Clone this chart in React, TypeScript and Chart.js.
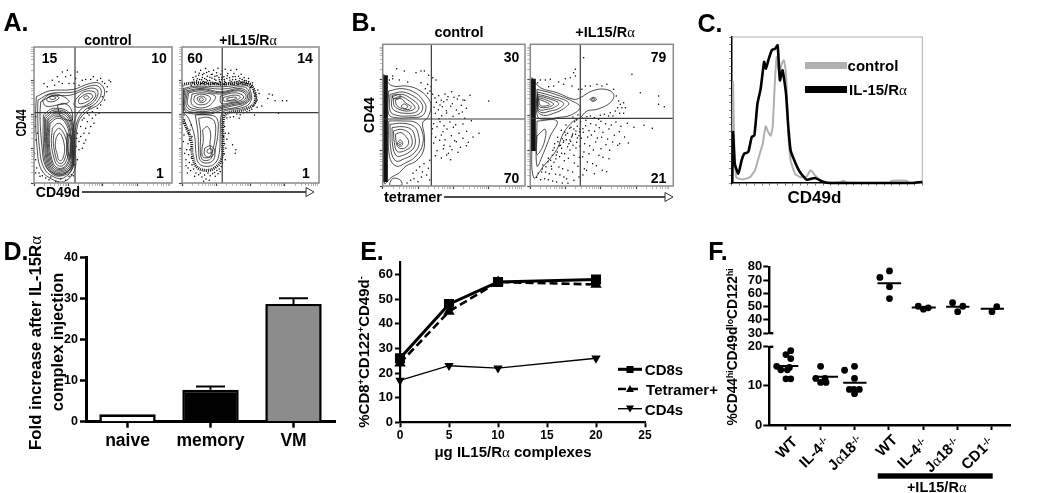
import React, { useEffect, useRef } from "react";
import { Chart, registerables } from "chart.js";

Chart.register(...registerables);
Chart.defaults.font.family = '"Liberation Sans", Arial, sans-serif';
Chart.defaults.font.weight = "bold";
Chart.defaults.color = "#000";

type P = number[];

/* ---------- Panel A: flow plots (channel units) ---------- */
const aControlContours: P[][] = [
  [[7,260],[47,278],[117,282],[167,300],[197,300],[212,275],[197,240],[157,215],[132,180],[125,100],[122,40],[92,5],[57,10],[22,40],[9,110],[5,210]],
  [[12,250],[50,270],[117,274],[165,292],[192,292],[202,272],[185,240],[150,218],[127,178],[120,100],[116,45],[88,15],[60,18],[30,45],[16,110],[11,210]],
  [[20,245],[55,262],[110,265],[160,284],[185,284],[192,268],[175,240],[140,222],[120,180],[116,100],[112,50],[85,25],[62,28],[35,50],[24,110],[18,200]],
  [[125,252],[150,275],[180,275],[185,262],[165,240],[135,228],[120,235]],
  [[135,255],[155,268],[172,268],[175,258],[155,243],[135,240]],
  [[148,258],[158,263],[165,258],[155,252]],
  [[25,250],[50,268],[85,262],[105,245],[70,235],[35,232]],
  [[38,255],[55,264],[75,258],[60,246],[40,247]],
  [[45,258],[56,262],[66,256],[52,252]],
  [[70,235],[90,240],[110,225],[115,190],[100,190],[80,200]],
  [[28,205],[58,225],[105,212],[120,155],[120,75],[112,38],[85,22],[58,25],[36,55],[28,120]],
  [[32,200],[60,220],[102,208],[119,152],[119,78],[111,42],[85,26],[59,28],[39,58],[32,120]],
  [[35,195],[60,215],[100,205],[117,150],[118,80],[110,45],[85,30],[60,32],[42,60],[35,120]],
  [[39,192],[63,210],[98,200],[115,148],[115,82],[107,48],[85,34],[61,36],[45,62],[38,120]],
  [[42,190],[65,205],[95,195],[112,145],[113,85],[105,52],[85,38],[62,40],[48,65],[40,120]],
  [[45,185],[68,200],[94,190],[110,142],[110,88],[102,56],[85,42],[64,44],[51,68],[43,120]],
  [[48,180],[70,195],[92,185],[107,140],[108,90],[100,60],[85,45],[66,48],[54,70],[46,120]],
  [[55,165],[72,180],[88,170],[102,135],[104,95],[96,65],[85,52],[70,54],[60,75],[52,120]],
  [[60,150],[74,165],[86,155],[97,128],[99,100],[92,72],[84,60],[72,62],[65,80],[58,120]],
  [[66,135],[76,150],[84,140],[90,120],[92,100],[88,78],[82,68],[74,70],[70,85],[64,110]],
  [[100,150],[112,140],[113,95],[106,70],[99,90],[98,125]],
  [[103,145],[110,135],[110,100],[105,80],[102,95],[101,125]],
];
const aControlDots: P[] = [
  [30,300],[40,290],[55,310],[62,295],[70,320],[75,305],[85,335],[85,300],[95,320],[100,340],[105,300],[110,325],[120,300],[125,315],[130,335],[135,295],[145,310],[155,312],[170,312],[178,320],[190,310],[200,315],[205,305],[212,300],[225,310],[230,305],[220,290],[218,275],[205,260],[212,250],[200,235],[190,225],[195,210],[175,195],[180,180],[170,170],[160,185],[155,165],[150,150],[145,190],[165,205],[140,170],[165,150],[140,140],[155,130],[135,125],[150,120],[145,105],[135,100],[130,150],[170,230],[175,215],[165,225],[185,205],[150,195],[160,210],
  [5,200],[2,90],[5,70],[8,45],[15,30],[5,30],[25,22],[18,20],[35,15],[45,10],[50,18],[65,5],[72,3],[80,12],[95,8],[105,20],[112,25],[118,22],[122,55],[126,110],[128,135],[130,70],[10,150],[6,130],[3,170],
];
const aTreatedBand: P[] = [[0,297],[40,302],[120,298],[190,302],[213,288],[220,245],[195,224],[135,210],[124,190],[123,120],[118,70],[100,47],[75,38],[46,47],[32,80],[27,130],[10,175],[0,202]];
const aTreatedContours: P[][] = [
  [[5,285],[40,292],[120,290],[195,295],[205,280],[208,250],[190,230],[130,218],[118,205],[115,150],[112,90],[100,60],[75,50],[50,60],[42,90],[38,140],[20,195],[5,215]],
  [[8,282],[50,289],[118,283],[185,290],[202,275],[202,248],[170,230],[120,220],[85,208],[38,208],[8,220]],
  [[12,278],[60,285],[115,275],[175,285],[200,270],[195,245],[150,232],[110,222],[85,212],[40,212],[10,225]],
  [[16,275],[60,282],[113,272],[172,281],[196,268],[190,246],[150,236],[110,226],[82,217],[42,217],[14,230]],
  [[20,272],[60,278],[112,268],[170,278],[192,265],[185,248],[150,240],[110,230],[80,222],[45,222],[18,235]],
  [[30,268],[60,272],[100,262],[90,240],[70,228],[45,228],[28,240]],
  [[38,262],[58,268],[85,258],[78,242],[62,236],[46,238],[36,248]],
  [[45,256],[58,262],[72,254],[66,244],[52,244]],
  [[52,254],[60,257],[64,250],[55,247]],
  [[115,262],[160,272],[185,262],[178,250],[145,242],[118,240]],
  [[125,258],[158,265],[175,260],[165,250],[140,247],[125,248]],
  [[135,255],[155,259],[165,256],[150,250],[135,250]],
  [[40,205],[80,205],[105,195],[108,150],[100,100],[95,70],[75,60],[55,68],[50,100],[48,150]],
  [[50,195],[78,198],[98,185],[100,140],[92,95],[88,75],[75,68],[60,72],[55,100],[56,150]],
  [[62,160],[76,170],[86,150],[84,115],[88,95],[86,82],[75,76],[62,80],[60,100],[64,130]],
  [[68,105],[85,112],[98,100],[95,85],[80,78],[68,85]],
  [[76,100],[86,104],[92,96],[84,90],[76,92]],
];
const aTreatedDots: P[] = [
  [28,295],[33,318],[36,302],[40,335],[44,308],[47,296],[50,325],[53,312],[56,340],[58,300],[61,318],[64,306],[66,330],[69,296],[71,345],[73,312],[76,322],[78,300],[81,336],[83,309],[86,296],[88,327],[90,316],[93,304],[95,340],[97,298],[99,322],[102,310],[104,332],[106,300],[108,346],[111,318],[113,305],[115,296],[117,328],[119,312],[121,338],[123,300],[126,320],[128,307],[130,343],[132,296],[135,315],[138,330],[141,302],[144,310],[147,340],[150,298],[153,320],[156,330],[158,304],[161,312],[164,342],[167,298],[170,322],[172,308],[175,300],[178,328],[181,312],[184,304],[187,318],[190,296],[193,308],[197,300],[200,315],[205,298],[208,290],[212,302],[216,280],[220,270],
  [31,303],[35,311],[38,297],[42,322],[46,314],[49,303],[52,331],[55,297],[59,311],[62,326],[65,299],[68,315],[70,304],[74,333],[77,308],[80,296],[84,319],[87,304],[91,328],[94,299],[98,313],[101,302],[105,323],[109,297],[112,311],[116,304],[120,319],[124,297],[127,312],[131,303],[136,323],[140,298],[143,317],[148,305],[152,311],[157,297],[160,321],[165,306],[169,298],[174,315],[179,303],[183,297],[188,309],[192,301],[196,293],[201,306],[206,288],[211,294],[215,274],[218,262],[224,256],[223,246],
  [222,262],[226,250],[220,240],[215,232],[226,228],[210,222],[203,218],[232,270],[228,280],[195,215],[185,212],[175,206],[165,208],[155,200],[145,198],[135,196],
  [262,268],[272,265],[280,248],[302,248],[315,248],[258,255],[240,232],[218,205],[290,210],[172,195],
  [125,185],[128,170],[122,160],[130,150],[125,140],[135,132],[128,118],[132,105],[122,100],[127,88],[130,70],[122,60],[118,50],[112,42],[105,38],[160,90],[162,100],[152,115],[140,150],
  [28,175],[24,160],[20,150],[30,140],[15,165],[10,180],[8,190],[22,130],[18,118],[28,110],[24,100],[14,100],[20,85],[28,75],[12,70],[22,62],[30,55],[18,45],[35,42],[26,38],[42,30],[50,25],[38,20],[60,18],[55,30],[68,24],[72,12],[78,30],[85,22],[92,28],[98,32],[100,20],[65,5],[82,8],[108,28],[115,35],[6,145],[4,125],[8,90],[12,52],[16,30],[6,205],[3,180],
];

/* ---------- Panel B: flow plots ---------- */
const bControlColumn: P[] = [[8,332],[8,12]];
const bControlContours: P[][] = [
  [[3,335],[8,320],[30,300],[70,300],[105,290],[135,265],[145,240],[135,205],[120,190],[125,150],[122,105],[100,75],[70,60],[50,40],[25,25],[5,8],[2,150]],
  [[18,285],[60,292],[100,278],[122,255],[130,235],[118,210],[80,205],[40,205],[18,215]],
  [[22,275],[60,282],[95,268],[115,250],[120,232],[108,215],[78,210],[42,212],[22,225]],
  [[28,268],[58,275],[88,260],[105,245],[108,230],[95,220],[70,218],[45,222],[28,235]],
  [[32,262],[55,268],[80,255],[95,240],[96,232],[78,225],[55,228],[35,240]],
  [[38,258],[55,262],[70,248],[85,238],[80,230],[60,232],[42,242]],
  [[55,240],[65,246],[75,238],[66,232]],
  [[28,272],[45,275],[55,268],[40,262],[30,264]],
  [[18,195],[60,195],[100,190],[118,165],[120,125],[100,90],[70,70],[40,60],[20,90]],
  [[22,185],[60,188],[95,178],[108,150],[108,120],[90,95],[65,82],[40,75],[25,105]],
  [[28,175],[58,178],[85,170],[97,145],[95,118],[80,102],[60,92],[42,90],[30,120]],
  [[32,165],[55,170],[78,160],[88,140],[85,118],[70,108],[55,102],[42,105],[35,130]],
  [[38,155],[55,160],[70,148],[78,132],[72,118],[58,112],[45,118],[40,135]],
  [[44,130],[52,138],[60,130],[56,120],[46,122]],
  [[48,128],[52,131],[56,127],[51,124]],
  [[20,6],[30,22],[50,20],[58,8],[55,2],[22,2]],
];
const bControlDots: P[] = [
  [30,330],[42,352],[65,345],[30,322],[50,318],[75,312],[20,318],[100,340],[115,345],[125,345],[138,332],[150,325],[160,318],[135,305],[115,310],[145,298],[142,285],[150,275],[135,278],[128,292],
  [157,264],[168,271],[176,257],[161,251],[187,276],[196,268],[207,283],[214,266],[229,271],[241,258],[262,272],[172,243],[183,253],[193,259],[209,247],[224,261],[236,242],[246,257],[154,236],[167,229],[179,238],[191,226],[204,239],[221,228],[239,222],[251,233],[158,218],[177,211],[192,219],[211,209],[229,217],[246,203],[318,255],[169,202],
  [153,187],[172,193],[184,181],[202,192],[219,184],[241,186],[266,196],[149,172],[163,178],[181,163],[193,171],[212,176],[229,158],[252,164],[271,147],[289,158],[147,157],[159,146],[176,153],[187,139],[206,151],[221,133],[241,143],[257,131],[153,129],[171,137],[184,122],[202,119],[216,136],[233,116],[251,121],[163,106],[182,112],[197,98],[208,109],[226,101],[158,91],[176,84],[192,93],[204,79],[141,77],[124,67],[137,53],[111,58],[119,42],[101,47],[91,38],[116,27],[132,33],[94,22],[106,13],[84,17],[141,18],[73,9],
];
const bTreatedColumn: P[] = [[9,322],[9,105]];
const bTreatedContours: P[][] = [
  [[5,325],[30,295],[80,280],[130,260],[150,265],[185,285],[225,290],[250,275],[240,250],[200,230],[170,225],[150,205],[130,195],[100,160],[80,110],[40,60],[10,25],[5,150]],
  [[178,260],[188,266],[199,260],[188,254]],
  [[183,260],[188,263],[194,260],[188,257]],
  [[22,282],[65,270],[115,250],[100,232],[70,218],[40,212],[22,225]],
  [[22,275],[60,265],[100,248],[85,232],[60,225],[35,220],[22,232]],
  [[23,270],[55,262],[85,248],[70,235],[50,230],[30,228],[23,238]],
  [[24,265],[48,258],[70,246],[58,238],[40,235],[25,240]],
  [[25,260],[42,254],[58,245],[45,240],[30,242]],
  [[20,290],[75,275],[135,250],[150,235],[120,212],[80,205],[50,200],[22,208]],
  [[20,195],[80,195],[60,150],[40,100],[20,60]],
  [[20,150],[45,170],[40,125],[20,95]],
];
const bTreatedDots: P[] = [
  [135,350],[130,340],[135,330],[120,325],[105,322],[85,312],[60,320],[45,318],[30,318],[22,310],[100,305],[70,300],[55,298],[125,300],[145,290],[155,290],[165,300],[180,300],[200,305],[215,300],[230,305],[160,385],[305,335],[330,280],[385,270],[385,245],[402,238],
  [250,290],[258,270],[265,255],[270,245],[280,250],[275,235],[262,235],[255,225],[240,220],[248,210],[235,210],[222,215],[210,212],[205,200],[192,205],[180,210],[170,208],[268,218],[285,235],[280,218],
  [143,213],[156,204],[139,198],[128,207],[151,193],[167,197],[181,187],[197,183],[212,194],[226,187],[243,183],[257,192],[272,179],[291,188],[311,176],[341,182],[366,173],
  [107,183],[122,176],[133,193],[141,179],[149,171],[166,181],[176,166],[193,164],[207,175],[218,161],[236,171],[252,152],[267,163],[283,147],[294,129],[268,127],
  [93,167],[104,161],[118,173],[127,156],[137,165],[146,151],[159,161],[172,147],[183,153],[201,144],[214,146],[232,141],[247,132],[262,122],
  [82,146],[96,142],[106,153],[119,138],[126,151],[139,131],[153,143],[163,127],[178,121],[196,132],[212,112],[227,124],[238,107],
  [73,127],[87,121],[99,131],[112,118],[121,134],[137,114],[149,119],[161,102],[176,97],[189,108],[206,92],[218,86],[236,82],
  [68,107],[81,102],[94,113],[103,97],[119,108],[131,92],[147,86],[157,88],[171,72],[187,67],[198,61],[216,47],[229,43],[169,47],[192,37],
  [54,83],[66,92],[77,82],[88,88],[102,76],[114,83],[132,69],[143,59],[162,52],
  [38,63],[53,73],[63,59],[71,71],[86,57],[97,52],[113,47],[127,42],[146,27],[158,33],
  [24,38],[36,51],[46,42],[57,37],[64,51],[76,35],[89,33],[101,27],[109,22],[131,17],[19,26],[31,19],[43,22],[54,19],[67,15],[79,12],[96,9],[113,8],
  [72,115],[83,133],[91,122],[108,139],[116,127],[128,122],[141,144],[112,158],[124,147],[136,155],[148,163],[158,172],[131,171],[100,136],[94,98],[78,93],[61,77],[47,58],[34,42],
];
const logSteps = [0, 31, 49, 62, 72, 80, 87, 93, 98];

/* ---------- Panel C ---------- */
const cControlX = [0.3,0.7,1.2,2.3,3.5,6.1,9.6,12.2,14.5,16.3,17.8,19.2,20.5,21.5,22.6,23.6,25,26.2,27.4,28.5,29.7,30.9,33.2,35.8,39,41.4,43.7,46.3,51.6,56.8,58.6,60.3,83,83.9,91.8,92.8,100];
const cControlY = [0,69.2,33.8,4.1,3,2.5,4.1,8.7,19,26.9,38.8,34.9,32.4,38.4,68,86.3,73.7,81.7,84,74.9,33.8,15.5,6.4,4.1,4.1,8.7,5.3,1.8,0.2,0.5,1.6,0.2,0.2,1.6,1.6,0.2,0.2];
const cTreatedX = [0.3,0.7,1.6,3.5,5.2,6.6,8.7,10.5,11.9,13.5,15.2,17,18,19.2,21,22.7,24.1,25.3,26.7,28.5,29.7,30.9,33.2,35.8,39.3,43.7,48.1,51.6,95.3,97.9,100];
const cTreatedY = [0,34.9,13.2,6.4,15.5,20.1,21.2,31.5,32.6,54.3,64.6,82.9,78.3,84,90.9,92,94.3,70.3,77.2,61.2,38.4,22.4,14.4,7.5,2.3,3.4,0.7,0,0,0.5,0.7];

/* ---------- Panel D ---------- */
const dCategories = ["naive", "memory", "VM"];
const dValues = [1.8, 7.8, 28.7];
const dErrors = [0.1, 0.8, 1.4];
const dColors = ["#ffffff", "#000000", "#8c8c8c"];

/* ---------- Panel E ---------- */
const eDoses = [0, 5, 10, 20];
const eCD8s = [26, 48, 57, 58];
const eTetramer = [24, 45, 57, 56];
const eCD4s = [17, 23, 22, 26];
const eYTicks = [0, 10, 20, 30, 40, 50, 60];

/* ---------- Panel F ---------- */
const fLowGroups: P[][] = [
  [[-0.27,15],[-0.15,14.1],[0.04,14.1],[0.14,17],[0,18],[0.14,19],[0,11.8],[0.14,11.8],[0.1,14.7]],
  [[1.01,15],[0.87,11.9],[1.01,10.9],[1.17,10.9],[1.14,11.9]],
  [[1.71,14],[2,15],[2,11.9],[1.85,9.1],[2,8],[2.14,9.1],[1.98,9.1]],
];
const fHighGroups: P[][] = [
  [[2.74,72],[3.02,76.9],[3.02,65],[3.02,56.1]],
  [[3.86,50.3],[4.01,48.1],[4.15,49.1]],
  [[4.86,53],[5.01,46.2],[5.16,50.3]],
  [[6.01,46.2],[6.15,50]],
];
const fLowMeans: P[] = [[-0.25,0.36,15.1],[0.82,1.52,12.35],[1.67,2.35,10.8]];
const fHighMeans: P[] = [[2.67,3.36,67.7],[3.67,4.37,49.3],[4.67,5.35,50],[5.68,6.36,48.4]];
const fLowTicks = [0, 10, 20];
const fHighTicks = [30, 40, 50, 60, 70, 80];
const fPositions = [0, 1, 2, 3, 4, 5, 6];

/* ---------- chart plumbing ---------- */
type Box = { l: number; t: number; r: number; b: number };

function layoutFor(c: Box, a: Box, x: any, y: any) {
  return {
    responsive: false,
    animation: false as const,
    events: [] as any[],
    layout: { autoPadding: false, padding: { left: 0, bottom: 0, top: a.t - c.t, right: c.r - a.r } },
    plugins: { legend: { display: false }, tooltip: { enabled: false } },
    scales: {
      x: { ...x, afterFit: (s: any) => { s.height = c.b - a.b; } },
      y: { ...y, afterFit: (s: any) => { s.width = a.l - c.l; } },
    },
  };
}

const pts = (list: P[]) => list.map(([x, y]) => ({ x, y }));
const closed = (list: P[]) => pts([...list, list[0]]);
const zipped = (xs: number[], ys: number[]) => xs.map((x, i) => ({ x, y: ys[i] }));

const flowFrame = {
  id: "flowFrame",
  afterDatasetsDraw(chart: any) {
    const { ctx, chartArea: a } = chart;
    ctx.save();
    ctx.strokeStyle = "#8a8a8a";
    ctx.lineWidth = 1.5;
    ctx.strokeRect(a.left, a.top, a.right - a.left, a.bottom - a.top);
    ctx.restore();
  },
};

const errorBars = {
  id: "errorBars",
  afterDatasetsDraw(chart: any) {
    const { ctx, scales } = chart;
    ctx.save();
    ctx.strokeStyle = "#000";
    ctx.lineWidth = 2;
    dCategories.forEach((_, i) => {
      if (dErrors[i] < 0.5) return;
      const x = scales.x.getPixelForValue(i);
      const y0 = scales.y.getPixelForValue(dValues[i]);
      const y1 = scales.y.getPixelForValue(dValues[i] + dErrors[i]);
      ctx.beginPath();
      ctx.moveTo(x, y0);
      ctx.lineTo(x, y1);
      ctx.moveTo(x - 14.5, y1);
      ctx.lineTo(x + 14.5, y1);
      ctx.stroke();
    });
    ctx.restore();
  },
};

function flowConfig(
  c: Box, a: Box, xMax: number, yMax: number, decade: number,
  gateX: number, gateY: number, contours: P[][], dots: P[], dense: P[] | null, column: P[] | null,
) {
  const ticks: number[] = [];
  for (let d = 0; d < 4; d++) logSteps.forEach((s) => ticks.push(d * decade + s));
  const axis = (max: number) => ({
    type: "linear", min: 0, max,
    afterBuildTicks: (s: any) => { s.ticks = ticks.filter((v) => v <= max).map((value) => ({ value })); },
    ticks: { display: false, autoSkip: false },
    border: { display: false },
    grid: {
      drawOnChartArea: false, tickLength: 3,
      tickColor: (ctx: any) => (ctx.tick && ctx.tick.value % decade === 0 ? "#444" : "#999"),
      tickWidth: (ctx: any) => (ctx.tick && ctx.tick.value % decade === 0 ? 1.2 : 0.7),
    },
  });
  const lineBase = { showLine: true, pointRadius: 0, fill: false };
  const datasets: any[] = [
    { ...lineBase, data: pts([[gateX, 0], [gateX, yMax]]), borderColor: "#3a3a3a", borderWidth: 1.2 },
    { ...lineBase, data: pts([[0, gateY], [xMax, gateY]]), borderColor: "#3a3a3a", borderWidth: 1.2 },
    ...contours.map((k) => ({ ...lineBase, data: closed(k), borderColor: "#222", borderWidth: 0.8, tension: 0.4 })),
  ];
  if (column) datasets.push({ ...lineBase, data: pts(column), borderColor: "#111", borderWidth: 5 });
  if (dense) datasets.push({ ...lineBase, data: closed(dense), borderColor: "#111", borderWidth: 3, borderDash: [1, 1], tension: 0.4 });
  datasets.push({ data: pts(dots), pointRadius: 0.75, pointBackgroundColor: "#000", pointBorderWidth: 0, showLine: false });
  return {
    type: "scatter",
    data: { datasets },
    options: layoutFor(c, a, axis(xMax), axis(yMax)),
    plugins: [flowFrame],
  };
}

const cfgAControl = () => flowConfig({ l: 24, t: 40, r: 180, b: 192 }, { l: 34, t: 47, r: 172, b: 183 }, 414, 410, 103, 123, 212, aControlContours, aControlDots, null, null);
const cfgATreated = () => flowConfig({ l: 172, t: 40, r: 327, b: 192 }, { l: 182, t: 47, r: 319, b: 183 }, 412, 410, 103, 121, 212, aTreatedContours, aTreatedDots, aTreatedBand, null);
const cfgBControl = () => flowConfig({ l: 373, t: 38, r: 530, b: 195 }, { l: 382.7, t: 44.3, r: 525, b: 186 }, 427, 425, 106, 146, 201, bControlContours, bControlDots, null, bControlColumn);
const cfgBTreated = () => flowConfig({ l: 521, t: 38, r: 680, b: 195 }, { l: 530.3, t: 44.3, r: 673.3, b: 186 }, 429, 425, 106, 150, 203, bTreatedContours, bTreatedDots, null, bTreatedColumn);

const cfgC = () => {
  const c = { l: 722, t: 30, r: 930, b: 192 };
  const a = { l: 731.7, t: 37, r: 922.3, b: 183 };
  const axis = (step: number) => ({
    type: "linear", min: 0, max: 100,
    ticks: { display: false, stepSize: step },
    border: { color: "#000", width: 1.5 },
    grid: { drawOnChartArea: false, tickLength: 2.5, tickColor: "#555", tickWidth: 0.8 },
  });
  return {
    type: "scatter",
    data: {
      datasets: [
        { showLine: true, pointRadius: 0, data: zipped(cTreatedX, cTreatedY), borderColor: "#000", borderWidth: 2.6, tension: 0.15, clip: false },
        { showLine: true, pointRadius: 0, data: zipped(cControlX, cControlY), borderColor: "#b0b0b0", borderWidth: 2, tension: 0.15, clip: false },
      ],
    },
    options: layoutFor(c, a, axis(4), axis(5)),
    plugins: [{
      id: "cFrame",
      beforeDatasetsDraw(chart: any) {
        const { ctx, chartArea: r } = chart;
        ctx.save();
        ctx.strokeStyle = "#9a9a9a";
        ctx.lineWidth = 0.8;
        ctx.beginPath();
        ctx.moveTo(r.left, r.top);
        ctx.lineTo(r.right, r.top);
        ctx.lineTo(r.right, r.bottom);
        ctx.stroke();
        ctx.restore();
      },
    }],
  };
};

const cfgD = () => {
  const c = { l: 62, t: 248, r: 342, b: 452 };
  const a = { l: 86, t: 255, r: 335, b: 421.7 };
  return {
    type: "bar",
    data: {
      labels: dCategories,
      datasets: [{ data: dValues, backgroundColor: dColors, borderColor: "#000", borderWidth: 2.6, barPercentage: 0.68, categoryPercentage: 1 }],
    },
    options: layoutFor(c, a,
      { type: "category", offset: true,
        ticks: { font: { size: 17.5, weight: "bold" }, padding: 3, maxRotation: 0 },
        border: { color: "#000", width: 3 },
        grid: { drawOnChartArea: false, offset: false, tickLength: 6, tickColor: "#000", tickWidth: 2.5 } },
      { type: "linear", min: 0, max: 40,
        ticks: { stepSize: 10, font: { size: 12.5, weight: "bold" }, padding: 2 },
        border: { color: "#000", width: 3 },
        grid: { drawOnChartArea: false, tickLength: 6, tickColor: "#000", tickWidth: 2.5 } }),
    plugins: [errorBars],
  };
};

const cfgE = () => {
  const c = { l: 372, t: 252, r: 660, b: 445 };
  const a = { l: 400, t: 259, r: 645, b: 422.3 };
  const common = { pointBackgroundColor: "#000", pointBorderColor: "#000", borderColor: "#000", clip: false, tension: 0 };
  return {
    type: "line",
    data: {
      labels: eDoses,
      datasets: [
        { ...common, label: "CD8s", data: zipped(eDoses, eCD8s), borderWidth: 3, pointStyle: "rect", pointRadius: 5 },
        { ...common, label: "Tetramer+", data: zipped(eDoses, eTetramer), borderWidth: 2.6, borderDash: [8, 4], pointStyle: "triangle", pointRadius: 4 },
        { ...common, label: "CD4s", data: zipped(eDoses, eCD4s), borderWidth: 1.4, pointStyle: "triangle", pointRotation: 180, pointRadius: 4 },
      ],
    },
    options: layoutFor(c, a,
      { type: "linear", min: 0, max: 25,
        ticks: { stepSize: 5, font: { size: 12, weight: "bold" }, padding: 1, maxRotation: 0 },
        border: { color: "#000", width: 2.2 },
        grid: { drawOnChartArea: false, tickLength: 5, tickColor: "#000", tickWidth: 2 } },
      { type: "linear", min: 0, max: 65.2,
        afterBuildTicks: (s: any) => { s.ticks = eYTicks.map((value) => ({ value })); },
        ticks: { font: { size: 13, weight: "bold" }, padding: 2 },
        border: { color: "#000", width: 2.2 },
        grid: { drawOnChartArea: false, tickLength: 5, tickColor: "#000", tickWidth: 2 } }),
  };
};

const fDatasets = (groups: P[][], means: P[], breakY: number) => [
  ...groups.map((g) => ({ data: pts(g), pointRadius: 3.4, pointBackgroundColor: "#000", pointBorderWidth: 0, showLine: false, clip: false })),
  ...means.map(([x0, x1, y]) => ({ data: pts([[x0, y], [x1, y]]), showLine: true, pointRadius: 0, borderColor: "#000", borderWidth: 2 })),
  { data: pts([[-0.486, breakY], [-0.37, breakY]]), showLine: true, pointRadius: 0, borderColor: "#000", borderWidth: 2.4, clip: false },
];

const fXRange = { min: -0.486, max: 6.556 };

const cfgFHigh = () => {
  const c = { l: 745, t: 258, r: 1018, b: 342 };
  const a = { l: 769.3, t: 265, r: 1010.7, b: 334 };
  return {
    type: "scatter",
    data: { datasets: fDatasets(fHighGroups, fHighMeans, 30) },
    options: layoutFor(c, a,
      { type: "linear", ...fXRange, ticks: { display: false }, border: { display: false }, grid: { display: false } },
      { type: "linear", min: 30, max: 80,
        afterBuildTicks: (s: any) => { s.ticks = fHighTicks.map((value) => ({ value })); },
        ticks: { font: { size: 13, weight: "bold" }, padding: 1, autoSkip: false },
        border: { color: "#000", width: 2.4 },
        grid: { drawOnChartArea: false, tickLength: 6, tickColor: "#000", tickWidth: 2 } }),
  };
};

const cfgFLow = () => {
  const c = { l: 745, t: 338, r: 1018, b: 436 };
  const a = { l: 769.3, t: 345.7, r: 1010.7, b: 425 };
  return {
    type: "scatter",
    data: { datasets: fDatasets(fLowGroups, fLowMeans, 20) },
    options: layoutFor(c, a,
      { type: "linear", ...fXRange,
        afterBuildTicks: (s: any) => { s.ticks = fPositions.map((value) => ({ value })); },
        ticks: { display: false, autoSkip: false },
        border: { color: "#000", width: 2.4 },
        grid: { drawOnChartArea: false, tickLength: 5, tickColor: "#000", tickWidth: 2 } },
      { type: "linear", min: 0, max: 20,
        afterBuildTicks: (s: any) => { s.ticks = fLowTicks.map((value) => ({ value })); },
        ticks: { font: { size: 13, weight: "bold" }, padding: 1, autoSkip: false },
        border: { color: "#000", width: 2.4 },
        grid: { drawOnChartArea: false, tickLength: 6, tickColor: "#000", tickWidth: 2 } }),
  };
};

const panelBoxes: [Box, () => any][] = [
  [{ l: 24, t: 40, r: 180, b: 192 }, cfgAControl],
  [{ l: 172, t: 40, r: 327, b: 192 }, cfgATreated],
  [{ l: 373, t: 38, r: 530, b: 195 }, cfgBControl],
  [{ l: 521, t: 38, r: 680, b: 195 }, cfgBTreated],
  [{ l: 722, t: 30, r: 930, b: 192 }, cfgC],
  [{ l: 62, t: 248, r: 342, b: 452 }, cfgD],
  [{ l: 372, t: 252, r: 660, b: 445 }, cfgE],
  [{ l: 745, t: 258, r: 1018, b: 342 }, cfgFHigh],
  [{ l: 745, t: 338, r: 1018, b: 436 }, cfgFLow],
];

function Panel({ box, build }: { box: Box; build: () => any }) {
  const ref = useRef<HTMLCanvasElement>(null);
  useEffect(() => {
    const chart = new Chart(ref.current as HTMLCanvasElement, build());
    return () => chart.destroy();
  }, [build]);
  return (
    <canvas
      ref={ref}
      width={box.r - box.l}
      height={box.b - box.t}
      style={{ position: "absolute", left: box.l, top: box.t, width: box.r - box.l, height: box.b - box.t }}
    />
  );
}

const Alpha = () => <span style={{ fontFamily: '"Liberation Serif", serif', fontWeight: "normal" }}>α</span>;
const Sup = ({ children }: { children: React.ReactNode }) => (
  <span style={{ fontSize: "0.62em", verticalAlign: "0.45em", lineHeight: 0 }}>{children}</span>
);

function T({ x, y, s, rot, sx, children }: { x: number; y: number; s: number; rot?: number; sx?: number; children: React.ReactNode }) {
  return (
    <div style={{
      position: "absolute", left: x, top: y, fontSize: s, fontWeight: "bold", lineHeight: 1, whiteSpace: "nowrap",
      fontFamily: '"Liberation Sans", Arial, sans-serif', color: "#000",
      transform: `translate(-50%,-50%) rotate(${rot || 0}deg) scaleX(${sx || 1})`,
    }}>{children}</div>
  );
}

const Arrow = ({ x0, x1, y }: { x0: number; x1: number; y: number }) => (
  <g>
    <line x1={x0} x2={x1} y1={y} y2={y} stroke="#111" strokeWidth={1.5} />
    <polygon points={`${x1},${y - 4.5} ${x1 + 8},${y} ${x1},${y + 4.5}`} fill="#fff" stroke="#333" strokeWidth={1} />
  </g>
);

const quadrants: [string, number, number][] = [
  ["15", 49.5, 58], ["10", 159, 58], ["1", 160, 173], ["60", 195, 58], ["14", 305, 58], ["1", 306, 173],
  ["30", 511.5, 57], ["70", 511.5, 178], ["79", 658.5, 57], ["21", 658.5, 178],
];
const letters: [string, number, number][] = [
  ["A.", 16, 22], ["B.", 364, 22], ["C.", 710, 23], ["D.", 16, 251], ["E.", 372, 251], ["F.", 718, 251],
];

export default function App() {
  return (
    <div style={{ position: "absolute", left: 0, top: 0, width: 1050, height: 493, overflow: "hidden", background: "#fff", filter: "blur(0.35px)" }}>
      {panelBoxes.map(([box, build], i) => <Panel key={i} box={box} build={build} />)}
      <svg width={1050} height={493} style={{ position: "absolute", left: 0, top: 0, pointerEvents: "none" }}>
        <Arrow x0={82} x1={306} y={192} />
        <Arrow x0={444} x1={665} y={197} />
        <rect x={805} y={62} width={42} height={7} fill="#b0b0b0" />
        <rect x={805} y={86} width={42} height={7} fill="#000" />
        <line x1={618} x2={642} y1={369.3} y2={369.3} stroke="#000" strokeWidth={3} />
        <rect x={626.5} y={366} width={7} height={7} fill="#000" />
        <line x1={618} x2={642} y1={389} y2={389} stroke="#000" strokeWidth={2.6} strokeDasharray="8 4" />
        <polygon points="630,385 634,392 626,392" fill="#000" />
        <line x1={618} x2={642} y1={408.7} y2={408.7} stroke="#000" strokeWidth={1.4} />
        <polygon points="630,412.5 634,405.5 626,405.5" fill="#000" />
        <rect x={877.7} y={473.3} width={115} height={5.4} fill="#000" />
      </svg>
      {letters.map(([t, x, y]) => <T key={t} x={x} y={y} s={25}>{t}</T>)}
      {quadrants.map(([t, x, y], i) => <T key={i} x={x} y={y} s={14}>{t}</T>)}

      <T x={108} y={40} s={14}>control</T>
      <T x={248} y={40} s={14}>+IL15/R<Alpha /></T>
      <T x={21} y={123} s={14} rot={-90} sx={0.76}>CD44</T>
      <T x={58} y={192} s={14}>CD49d</T>

      <T x={459} y={32} s={14.5}>control</T>
      <T x={605} y={32} s={14.5}>+IL15/R<Alpha /></T>
      <T x={369} y={115} s={14} rot={-90}>CD44</T>
      <T x={413} y={197} s={14.5}>tetramer</T>

      <T x={873} y={65} s={15}>control</T>
      <T x={878} y={90} s={15}>IL-15/R<Alpha /></T>
      <T x={814.5} y={197} s={17}>CD49d</T>

      <T x={36} y={343} s={16.8} rot={-90}>Fold increase after IL-15R<Alpha /></T>
      <T x={57} y={342} s={16.4} rot={-90}>complex injection</T>

      <T x={363} y={352} s={15} rot={-90}>%CD8<Sup>+</Sup>CD122<Sup>+</Sup>CD49d<Sup>-</Sup></T>
      <T x={513} y={451.5} s={15}>μg IL15/R<Alpha /> complexes</T>
      <T x={664} y={369} s={15}>CD8s</T>
      <T x={682} y={389} s={15}>Tetramer+</T>
      <T x={664} y={408.5} s={15}>CD4s</T>

      <T x={733} y={346.5} s={13.8} rot={-90}>%CD44<Sup>hi</Sup>CD49d<Sup>lo</Sup>CD122<Sup>hi</Sup></T>
      <T x={786} y={446.7} s={15} rot={-45}>WT</T>
      <T x={814.3} y={451.7} s={15} rot={-45}>IL-4<Sup>-/-</Sup></T>
      <T x={845} y={453} s={15} rot={-45}>J<Alpha />18<Sup>-/-</Sup></T>
      <T x={886} y={445} s={15} rot={-45}>WT</T>
      <T x={911.7} y={452.7} s={15} rot={-45}>IL-4<Sup>-/-</Sup></T>
      <T x={941.7} y={455} s={15} rot={-45}>J<Alpha />18<Sup>-/-</Sup></T>
      <T x={976.7} y={453} s={15} rot={-45}>CD1<Sup>-/-</Sup></T>
      <T x={936.7} y={487} s={14.5}>+IL15/R<Alpha /></T>
    </div>
  );
}
